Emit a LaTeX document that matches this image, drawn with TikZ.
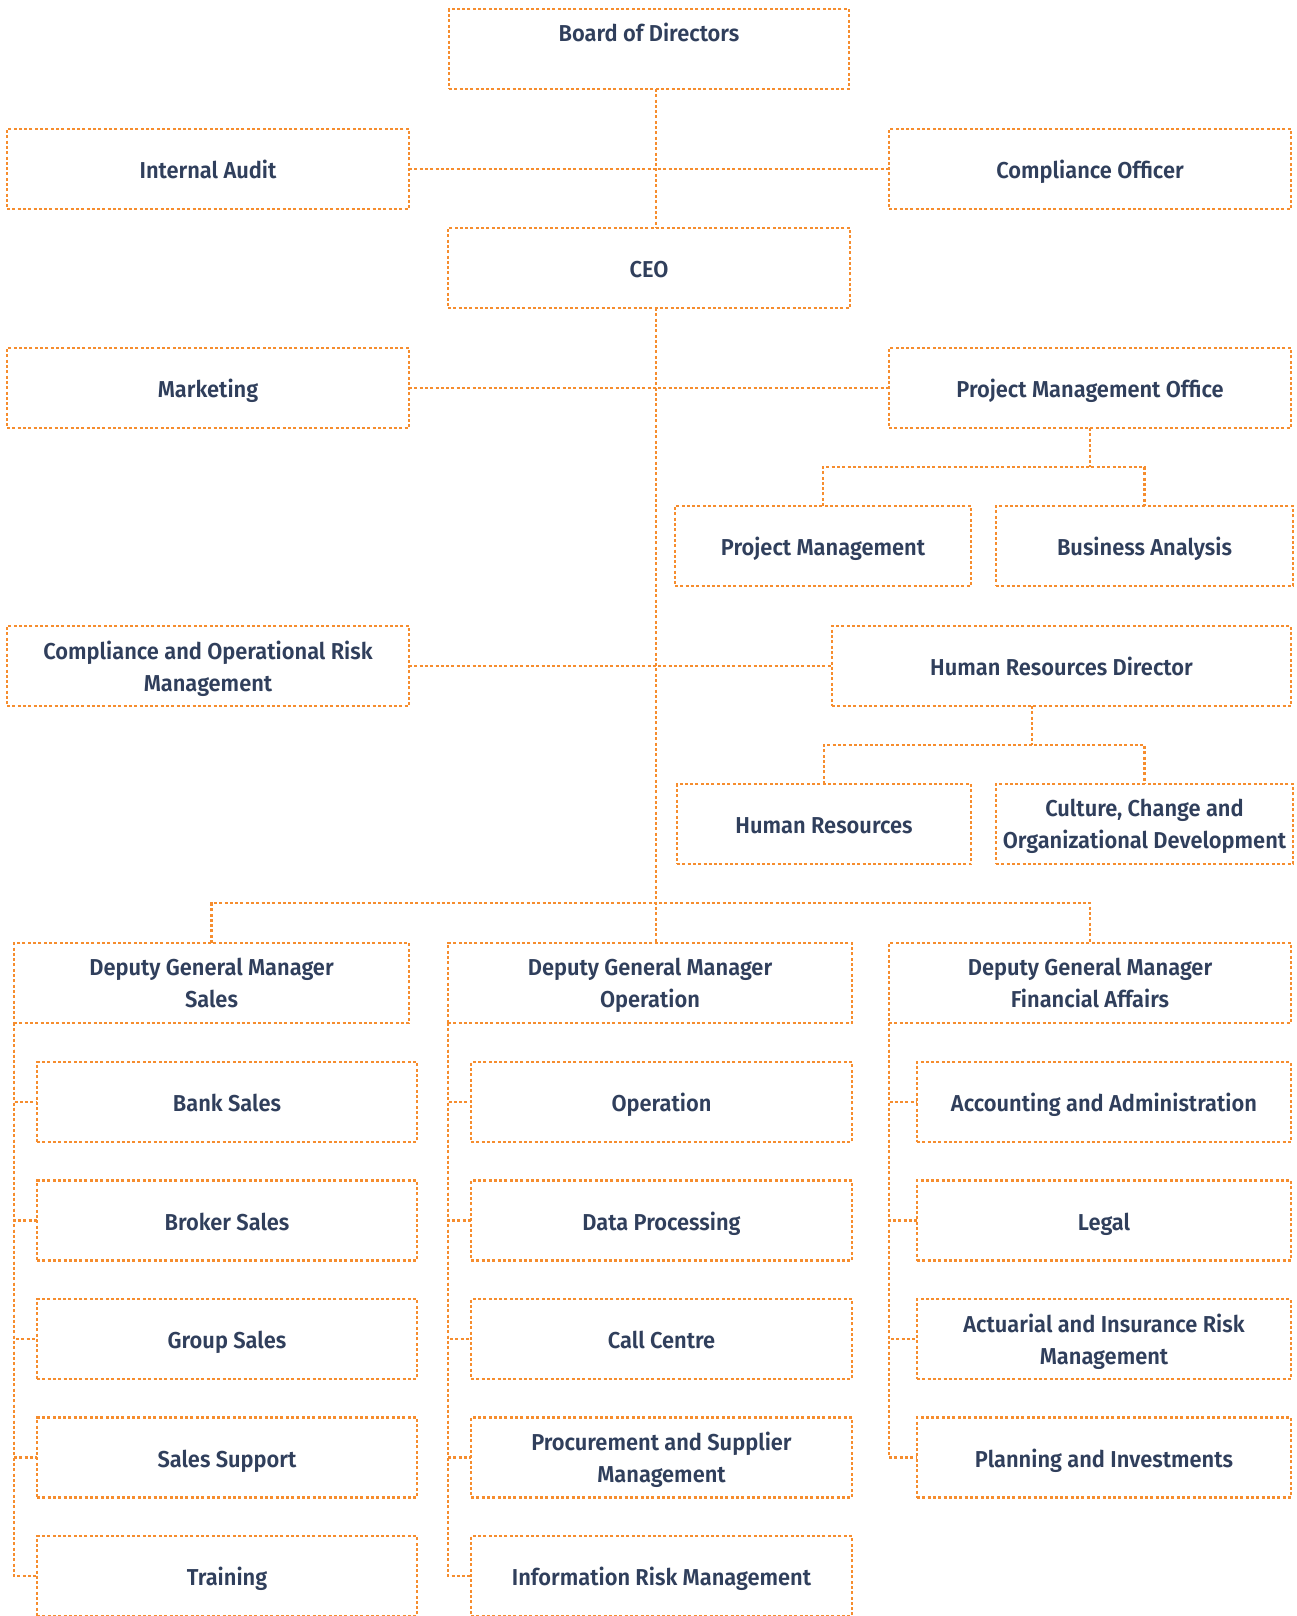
\documentclass[tikz,border=0pt]{standalone}
\usepackage{fontspec}
\setmainfont{Fira Sans}[BoldFont={* SemiBold}, FakeStretch=0.95]
\usetikzlibrary{positioning}
\definecolor{orgorange}{RGB}{246,141,46}
\definecolor{orgnavy}{RGB}{48,63,92}

\begin{document}
\begin{tikzpicture}[x=1pt, y=-1pt, node distance=38.5pt, text=orgnavy,
    font=\bfseries\fontsize{23}{32}\selectfont]
    \tikzstyle{box} = [rectangle, draw=orgorange, line width=2.8pt, dash pattern=on 3pt off 2.3pt,
                       align=center, minimum height=80pt, inner sep=0pt, outer sep=0pt, text depth=0pt,
                       execute at begin node={\vrule height 19pt width 0pt}]
    \tikzstyle{twoline} = [execute at begin node={\vrule height 25pt width 0pt}]
    \tikzstyle{link} = [draw=orgorange, line width=2.8pt, dash pattern=on 3pt off 2.3pt]

    \clip (0,0) rectangle (1296,1616);

    % Direction
    \node[box, minimum width=400pt] (board) at (649,49) {Board of Directors\\[1.2pt]\mbox{}};
    \node[box, minimum width=402pt] (ia) at (208,169) {Internal Audit};
    \node[box, minimum width=402pt] (co) at (1090,169) {Compliance Officer};
    \node[box, minimum width=402pt] (ceo) at (649,268) {CEO};
    \node[box, minimum width=402pt] (mkt) at (208,388) {Marketing};
    \node[box, minimum width=402pt] (pmo) at (1090,388) {Project Management Office};
    \node[box, minimum width=296pt] (pm) at (823,546) {Project Management};
    \node[box, minimum width=297pt] (ba) at (1144.5,546) {Business Analysis};
    \node[box, twoline, minimum width=402pt] (corm) at (208,666) {Compliance and Operational Risk\\Management};
    \node[box, minimum width=459pt] (hrd) at (1061.5,666) {Human Resources Director};
    \node[box, minimum width=294pt] (hr) at (824,824) {Human Resources};
    \node[box, twoline, minimum width=297pt] (ccod) at (1144.5,824) {Culture, Change and\\Organizational Development};

    % Directions adjointes
    \node[box, twoline, minimum width=395pt] (dgms) at (211.5,983) {Deputy General Manager\\Sales};
    \node[box, twoline, minimum width=404pt] (dgmo) at (650,983) {Deputy General Manager\\Operation};
    \node[box, twoline, minimum width=402pt] (dgmf) at (1090,983) {Deputy General Manager\\Financial Affairs};

    % Ventes
    \node[box, minimum width=380pt] (bs) at (227,1102) {Bank Sales};
    \node[box, minimum width=380pt, below=of bs] (brs) {Broker Sales};
    \node[box, minimum width=380pt, below=of brs] (gs) {Group Sales};
    \node[box, minimum width=380pt, below=of gs] (ss) {Sales Support};
    \node[box, minimum width=380pt, below=of ss] (tr) {Training};

    % Operations
    \node[box, minimum width=381pt] (op) at (661.5,1102) {Operation};
    \node[box, minimum width=381pt, below=of op] (dp) {Data Processing};
    \node[box, minimum width=381pt, below=of dp] (cc) {Call Centre};
    \node[box, twoline, minimum width=381pt, below=of cc] (psm) {Procurement and Supplier\\Management};
    \node[box, minimum width=381pt, below=of psm] (irm) {Information Risk Management};

    % Finances
    \node[box, minimum width=374pt] (aa) at (1104,1102) {Accounting and Administration};
    \node[box, minimum width=374pt, below=of aa] (legal) {Legal};
    \node[box, twoline, minimum width=374pt, below=of legal] (airm) {Actuarial and Insurance Risk\\Management};
    \node[box, minimum width=374pt, below=of airm] (pi) {Planning and Investments};

    % Liaisons
    \coordinate (spine) at (656,0);
    \coordinate (pmbus) at (1090,467);
    \coordinate (hrbus) at (1032,745);
    \coordinate (dgmbus) at (656,903);
    \draw[link] (board.south -| spine) -- (ceo.north -| spine);
    \draw[link] (ia.east) -- (co.west);
    \draw[link] (ceo.south -| spine) -- (dgmo.north -| spine);
    \draw[link] (mkt.east) -- (pmo.west);
    \draw[link] (corm.east) -- (hrd.west);
    \draw[link] (pmo.south) -- (pmbus);
    \draw[link] (pm.north) |- (pmbus) -| (ba.north);
    \draw[link] (hrd.south -| hrbus) -- (hrbus);
    \draw[link] (hr.north) |- (hrbus) -| (ccod.north);
    \draw[link] (dgms.north) |- (dgmbus) -| (dgmf.north);
    \foreach \c in {bs,brs,gs,ss,tr}
        \draw[link] (dgms.south west) |- (\c.west);
    \foreach \c in {op,dp,cc,psm,irm}
        \draw[link] (dgmo.south west) |- (\c.west);
    \foreach \c in {aa,legal,airm,pi}
        \draw[link] (dgmf.south west) |- (\c.west);
\end{tikzpicture}
\end{document}
